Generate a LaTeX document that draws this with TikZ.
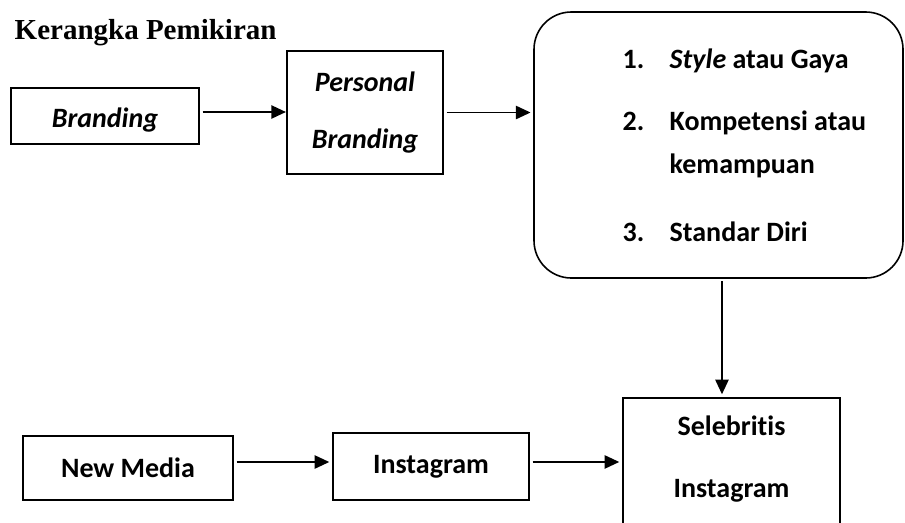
\documentclass[tikz,border=0pt]{standalone}
\usepackage{fontspec}
\setmainfont{Carlito}[Ligatures=NoCommon]
\newfontfamily\judulfont{Liberation Serif}
\usetikzlibrary{arrows.meta}

\begin{document}
\begin{tikzpicture}[x=0.75pt,y=-0.75pt,
  kotak/.style={draw,line width=1.6pt,inner sep=0pt,align=center,
    font=\fontsize{21}{42.75}\selectfont\bfseries},
  butir/.style={anchor=base west,font=\fontsize{21}{25}\selectfont\bfseries},
  tulisan/.style={anchor=base,font=\fontsize{21}{25}\selectfont\bfseries},
  panah/.style={line width=1.2pt,-{Triangle[length=11pt,width=10pt]},
    shorten <=2pt,shorten >=2pt}]
\useasboundingbox (0,0) rectangle (905,522);

\node[anchor=base west,font=\judulfont\fontsize{21.75}{26}\selectfont\bfseries] (judul) at (10,39) {Kerangka Pemikiran};

% baris atas
\node[kotak,minimum width=141pt,minimum height=42pt,text height=16.5pt,text depth=0pt] (branding) at (105,116) {\textit{Branding}};
\node[kotak,minimum width=117pt,minimum height=92.25pt] (personal) at (365,112.5) {\textit{Personal}\\\textit{Branding}};
\node[draw,line width=1.2pt,rounded corners=28pt,minimum width=276.75pt,minimum height=199.5pt] (ciri) at (718.5,145) {};

\node[butir] (butir1) at (618,68) {\makebox[35.25pt][l]{1.}\textit{Style} atau Gaya};
\node[butir] (butir2) at (618,130) {\makebox[35.25pt][l]{2.}Kompetensi atau};
\node[butir] (butir2b) at (665,173) {kemampuan};
\node[butir] (butir3) at (618,241) {\makebox[35.25pt][l]{3.}Standar Diri};

% baris bawah
\node[kotak,minimum width=157.5pt,minimum height=48pt] (newmedia) at (128,468) {New Media};
\node[kotak,minimum width=147pt,minimum height=50.25pt] (instagram) at (431,466.5) {Instagram};
\node[kotak,minimum width=162.75pt,minimum height=129pt] (selebritis) at (731.5,484) {};
\node[tulisan] (seleb1) at (731.5,435) {Selebritis};
\node[tulisan] (seleb2) at (731.5,497) {Instagram};

% panah
\draw[panah,shorten <=2pt,shorten >=0pt] ([yshift=3pt]branding.east) -- ([yshift=3pt]branding.east -| personal.west);
\draw[panah] (personal.east) -- (personal.east -| ciri.west);
\draw[panah] ([xshift=2.6pt]ciri.south) -- ([xshift=2.6pt]ciri.south |- selebritis.north);
\draw[panah] ([yshift=4.5pt]newmedia.east) -- ([yshift=4.5pt]newmedia.east -| instagram.west);
\draw[panah] ([yshift=3.4pt]instagram.east) -- ([yshift=3.4pt]instagram.east -| selebritis.west);
\end{tikzpicture}
\end{document}
